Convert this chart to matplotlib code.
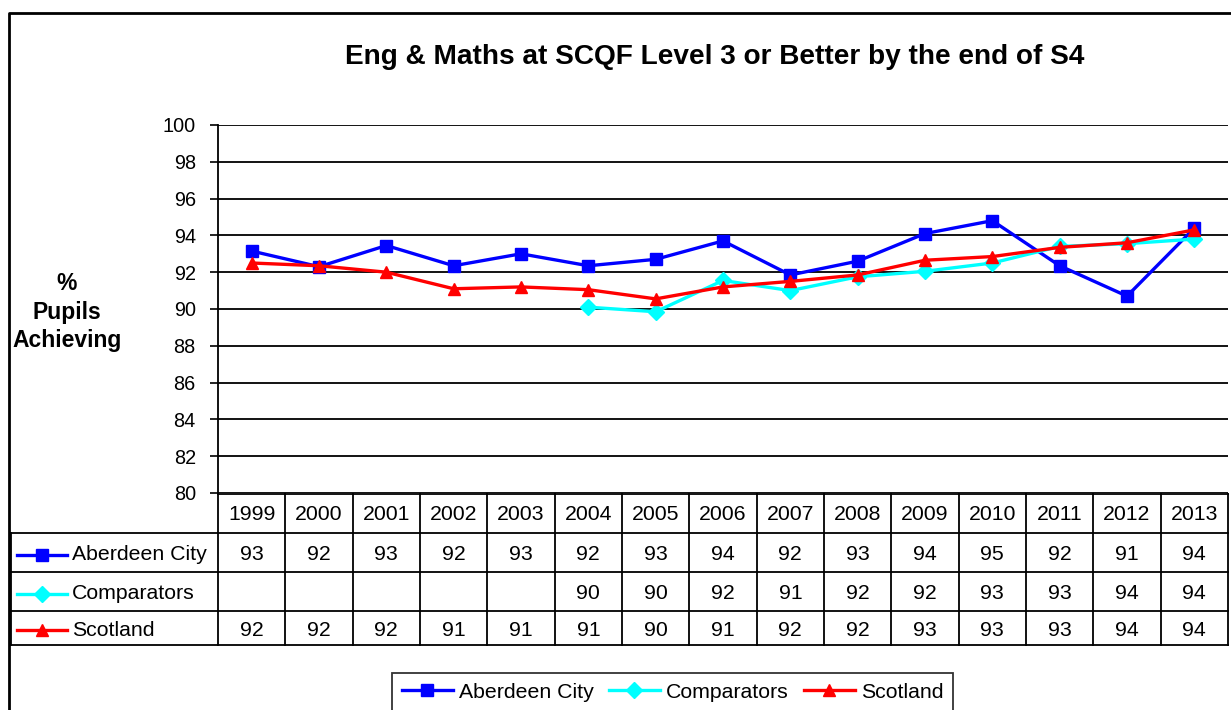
import numpy as np
import matplotlib.pyplot as plt
from matplotlib.lines import Line2D
from matplotlib.transforms import blended_transform_factory

plt.rcParams['font.family'] = ['Liberation Sans', 'DejaVu Sans']

# data
years = ['1999', '2000', '2001', '2002', '2003', '2004', '2005', '2006',
         '2007', '2008', '2009', '2010', '2011', '2012', '2013']
aberdeen = [93.15, 92.3, 93.45, 92.35, 93.0, 92.35, 92.7, 93.7,
            91.85, 92.6, 94.1, 94.8, 92.35, 90.7, 94.4]
comparators = [np.nan, np.nan, np.nan, np.nan, np.nan, 90.1, 89.85, 91.55,
               91.0, 91.75, 92.05, 92.5, 93.4, 93.55, 93.8]
scotland = [92.5, 92.35, 92.0, 91.1, 91.2, 91.05, 90.55, 91.2,
            91.5, 91.85, 92.65, 92.85, 93.35, 93.6, 94.3]

# values shown in the data table
aberdeen_tbl = ['93', '92', '93', '92', '93', '92', '93', '94', '92', '93', '94', '95', '92', '91', '94']
comparators_tbl = ['', '', '', '', '', '90', '90', '92', '91', '92', '92', '93', '93', '94', '94']
scotland_tbl = ['92', '92', '92', '91', '91', '91', '90', '91', '92', '92', '93', '93', '93', '94', '94']

series = [
    ('Aberdeen City', aberdeen, aberdeen_tbl, '#0000FF', 's', 8),
    ('Comparators', comparators, comparators_tbl, '#00FFFF', 'D', 8),
    ('Scotland', scotland, scotland_tbl, '#FF0000', '^', 9),
]

W, H = 1231, 710
fig = plt.figure(figsize=(W / 100, H / 100), dpi=100)


def fx(p):
    return p / W


def fy(p):
    return 1 - p / H


ax_left, ax_right, ax_top, ax_bot = 218, 1228, 125, 493
ax = fig.add_axes([fx(ax_left), fy(ax_bot), fx(ax_right - ax_left), (ax_bot - ax_top) / H])

x = np.arange(len(years))
handles = []
for name, vals, _, col, mk, ms in series:
    h, = ax.plot(x, vals, color=col, lw=2.4, marker=mk, ms=ms, label=name)
    handles.append(h)

ax.set_xlim(-0.5, len(years) - 0.5)
ax.set_ylim(80, 100)
ax.set_yticks(np.arange(80, 101, 2))
ax.yaxis.grid(True, color='black', lw=1.3)
ax.set_axisbelow(True)
ax.set_xticks([])
ax.tick_params(axis='y', labelsize=14.3, length=6, width=1.2, direction='out', pad=10)
for s in ['top', 'right', 'bottom']:
    ax.spines[s].set_visible(False)
ax.spines['left'].set_linewidth(1.3)

# title and y label
fig.text(fx(715), fy(57), 'Eng & Maths at SCQF Level 3 or Better by the end of S4',
         ha='center', va='center', fontsize=20.2, fontweight='bold')
fig.text(fx(67), fy(312), '%\nPupils\nAchieving', ha='center', va='center',
         fontsize=16.5, fontweight='bold', linespacing=1.28)

# data table below the plot
tr = blended_transform_factory(ax.transData, fig.transFigure)
rows = [494, 532.5, 572, 610.5, 645]
lw = 1.3
for xi in np.arange(-0.5, len(years), 1.0):
    fig.add_artist(Line2D([xi, xi], [fy(rows[0]), fy(rows[-1])], transform=tr, color='black', lw=lw))
fig.add_artist(Line2D([fx(ax_left), fx(ax_right)], [fy(rows[0])] * 2, color='black', lw=lw))
for r in rows[1:]:
    fig.add_artist(Line2D([fx(11), fx(ax_right)], [fy(r)] * 2, color='black', lw=lw))
fig.add_artist(Line2D([fx(11), fx(11)], [fy(rows[1]), fy(rows[-1])], color='black', lw=lw))

hy = (rows[0] + rows[1]) / 2 + 1
for i, yr in enumerate(years):
    fig.text(i, fy(hy), yr, transform=tr, ha='center', va='center', fontsize=15.3)

for k, (name, vals, tbl, col, mk, ms) in enumerate(series):
    cy = (rows[k + 1] + rows[k + 2]) / 2
    ty = cy + 2.5
    fig.add_artist(Line2D([fx(17), fx(67)], [fy(ty)] * 2, color=col, lw=2.4))
    fig.add_artist(Line2D([fx(42)], [fy(ty)], color=col, marker=mk, ms=ms, lw=0))
    fig.text(fx(72), fy(ty), name, ha='left', va='center', fontsize=15.3)
    for i, t in enumerate(tbl):
        fig.text(i, fy(ty), t, transform=tr, ha='center', va='center', fontsize=15.3)

# legend at bottom
leg = fig.legend(handles=handles, loc='upper left', bbox_to_anchor=(fx(392), fy(673)),
                 ncol=3, fontsize=15.3, frameon=True, fancybox=False, borderaxespad=0,
                 handlelength=2.4, handletextpad=0.3, columnspacing=0.7,
                 borderpad=0.45)
leg.get_frame().set_edgecolor('black')
leg.get_frame().set_linewidth(1.3)

# outer chart border (runs off the right and bottom edges)
fig.add_artist(Line2D([fx(8.5), fx(8.5), fx(1240)], [fy(720), fy(12.5), fy(12.5)],
                      color='black', lw=2))

fig.savefig('out.png', dpi=100)
